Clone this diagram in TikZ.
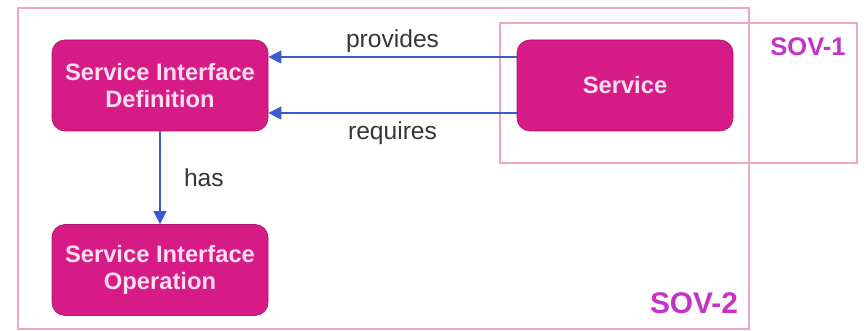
\documentclass[tikz,border=0pt]{standalone}
\usepackage{fontspec}
\setmainfont{Liberation Sans}
\usepackage{tikz}
\usetikzlibrary{arrows.meta,positioning}
\definecolor{sovpink}{RGB}{240,165,195}
\definecolor{boxmagenta}{RGB}{214,26,134}
\definecolor{boxtext}{RGB}{252,222,240}
\definecolor{sovlabel}{RGB}{198,50,200}
\definecolor{linkblue}{RGB}{60,90,210}
\definecolor{labelgray}{RGB}{55,55,55}

\begin{document}
\begin{tikzpicture}[
elem/.style={draw=boxmagenta!80!black, fill=boxmagenta, rounded corners=0.26cm,
minimum width=4.32cm, minimum height=1.82cm, align=center, text=boxtext,
font=\fontsize{13.5}{15.5}\selectfont\bfseries, inner sep=2pt},
frame/.style={draw=sovpink, line width=1.3pt, minimum width=#1, inner sep=0pt},
sov/.style={text=sovlabel, font=\bfseries},
lbl/.style={text=labelgray, font=\fontsize{14}{16}\selectfont},
link/.style={-{Triangle[length=2.6mm,width=2.6mm]}, line width=0.8pt, draw=linkblue}
]
\useasboundingbox[fill=white] (0,0) rectangle (17.32,6.62);

% viewpoint frames
\node[frame=14.62cm, minimum height=6.42cm] (sov2) at (7.67,3.25) {};
\node[frame=7.14cm, minimum height=2.80cm] (sov1) at (13.57,4.76) {};
\node[sov, font=\fontsize{14.5}{16}\selectfont\bfseries] (sov1lbl) at (16.16,5.68) {SOV-1};
\node[sov, font=\fontsize{17}{19}\selectfont\bfseries] (sov2lbl) at (13.88,0.56) {SOV-2};

% elements
\node[elem] (sid) at (3.2,4.91) {Service Interface\\Definition};
\node[elem] (sio) at (3.2,1.22) {Service Interface\\Operation};
\node[elem] (svc) at (12.5,4.91) {Service};

\draw[link] ([yshift=0.57cm]svc.west) -- node[lbl, above=-1pt]{provides} ([yshift=0.57cm]sid.east);
\draw[link] ([yshift=-0.55cm]svc.west) -- node[lbl, below=1pt]{requires} ([yshift=-0.55cm]sid.east);
\draw[link] (sid.south) -- node[lbl, right=0.35cm]{has} (sio.north);

\end{tikzpicture}
\end{document}
